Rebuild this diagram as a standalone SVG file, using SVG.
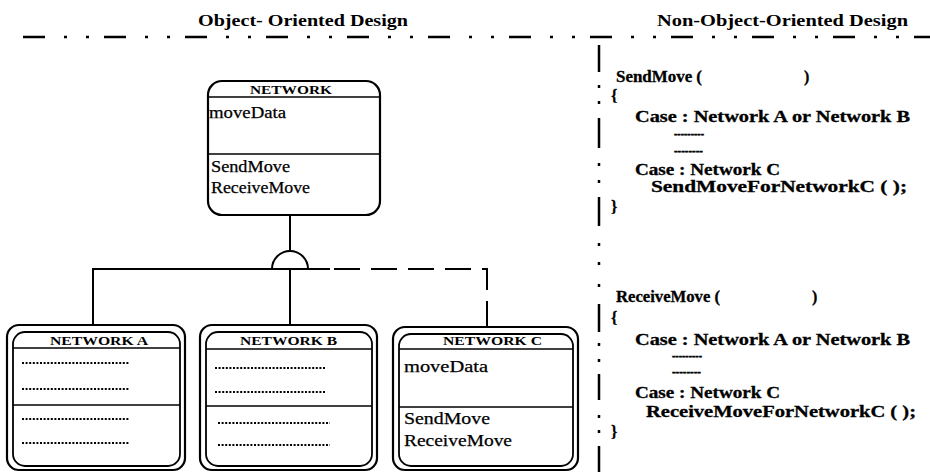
<svg xmlns="http://www.w3.org/2000/svg" width="930" height="472" viewBox="0 0 930 472">
  <style>
    .bg { fill: #ffffff; }
    .rule { fill: none; stroke: #000; stroke-width: 2.5; }
    .hrule { stroke-dasharray: 22 19 3 19 3 15; }
    .box { fill: none; stroke: #000; stroke-width: 2.2; }
    .inner { fill: none; stroke: #000; stroke-width: 1.8; }
    .sep { stroke: #000; stroke-width: 1.6; }
    .link { fill: none; stroke: #000; stroke-width: 2; }
    .dashed { stroke-dasharray: 26 11; }
    .dots { stroke: #000; stroke-width: 2; stroke-dasharray: 2 1.6; }
    .head { font-family: "Liberation Serif", "Times New Roman", serif; font-weight: bold; font-size: 16px; fill: #000; }
    .title { font-family: "Liberation Serif", "Times New Roman", serif; font-weight: bold; font-size: 12px; fill: #000; }
    .member { font-family: "Liberation Serif", "Times New Roman", serif; font-size: 16px; fill: #000; stroke: #000; stroke-width: 0.25; }
    .big { font-size: 17px; }
    .code { font-family: "Liberation Serif", "Times New Roman", serif; font-weight: bold; font-size: 16px; fill: #000; stroke: #000; stroke-width: 0.3; }
    .fill { font-family: "Liberation Serif", "Times New Roman", serif; font-weight: bold; font-size: 13px; fill: #000; stroke: #000; stroke-width: 0.5; }
  </style>

  <rect class="bg" x="0" y="0" width="930" height="472"/>

  <!-- column headings and dividing rules -->
  <g id="headings">
    <text class="head" x="198" y="26" textLength="210" lengthAdjust="spacingAndGlyphs">Object- Oriented Design</text>
    <text class="head" x="657" y="26" textLength="251" lengthAdjust="spacingAndGlyphs">Non-Object-Oriented Design</text>
    <line class="rule hrule" x1="23" y1="37" x2="930" y2="37"/>
    <!-- vertical divider: long dashes and dots placed along the listing -->
    <path class="rule" d="M599 45V72 M599 85V88 M599 101V104 M599 118V148 M599 163V166 M599 180V183 M599 197V226 M599 243V246 M599 262V265 M599 284V287 M599 304V332 M599 343V346 M599 359V362 M599 374V400 M599 415V418 M599 430V433 M599 446V472"/>
  </g>

  <!-- base class -->
  <g id="network">
    <rect class="box" x="208" y="81" width="172" height="134" rx="14"/>
    <line class="sep" x1="208" y1="97" x2="380" y2="97"/>
    <line class="sep" x1="208" y1="154" x2="380" y2="154"/>
    <text class="title" x="250" y="94" textLength="82" lengthAdjust="spacingAndGlyphs">NETWORK</text>
    <text class="member" x="209" y="118" textLength="77" lengthAdjust="spacingAndGlyphs">moveData</text>
    <text class="member" x="211" y="172" textLength="79" lengthAdjust="spacingAndGlyphs">SendMove</text>
    <text class="member" x="211" y="193" textLength="99" lengthAdjust="spacingAndGlyphs">ReceiveMove</text>
  </g>

  <!-- inheritance connectors -->
  <g id="connectors">
    <line class="link" x1="290" y1="215" x2="290" y2="252"/>
    <path class="link" d="M272 269 A18 18 0 0 1 308 269"/>
    <polyline class="link" points="93,325 93,269 330,269"/>
    <line class="link" x1="290" y1="269" x2="290" y2="325"/>
    <polyline class="link dashed" points="334,269 487,269 487,327"/>
  </g>

  <!-- subclass A -->
  <g id="network-a">
    <rect class="box" x="7" y="325" width="178" height="145" rx="12"/>
    <rect class="inner" x="13" y="332" width="167" height="134" rx="12"/>
    <line class="sep" x1="13" y1="348" x2="180" y2="348"/>
    <line class="sep" x1="13" y1="405" x2="180" y2="405"/>
    <text class="title" x="50" y="345" textLength="98" lengthAdjust="spacingAndGlyphs">NETWORK A</text>
    <line class="dots" x1="22" y1="363" x2="130" y2="363"/>
    <line class="dots" x1="22" y1="389" x2="130" y2="389"/>
    <line class="dots" x1="22" y1="419" x2="130" y2="419"/>
    <line class="dots" x1="22" y1="443" x2="130" y2="443"/>
  </g>

  <!-- subclass B -->
  <g id="network-b">
    <rect class="box" x="200" y="325" width="177" height="145" rx="12"/>
    <rect class="inner" x="206" y="332" width="166" height="134" rx="12"/>
    <line class="sep" x1="206" y1="349" x2="372" y2="349"/>
    <line class="sep" x1="206" y1="406" x2="372" y2="406"/>
    <text class="title" x="240" y="345" textLength="97" lengthAdjust="spacingAndGlyphs">NETWORK B</text>
    <line class="dots" x1="215" y1="368" x2="325" y2="368"/>
    <line class="dots" x1="215" y1="392" x2="325" y2="392"/>
    <line class="dots" x1="218" y1="423" x2="330" y2="423"/>
    <line class="dots" x1="218" y1="445" x2="330" y2="445"/>
  </g>

  <!-- subclass C -->
  <g id="network-c">
    <rect class="box" x="393" y="327" width="185" height="143" rx="12"/>
    <rect class="inner" x="399" y="334" width="174" height="132" rx="12"/>
    <line class="sep" x1="399" y1="349" x2="573" y2="349"/>
    <line class="sep" x1="399" y1="407" x2="573" y2="407"/>
    <text class="title" x="443" y="345" textLength="99" lengthAdjust="spacingAndGlyphs">NETWORK C</text>
    <text class="member big" x="404" y="372" textLength="84" lengthAdjust="spacingAndGlyphs">moveData</text>
    <text class="member big" x="404" y="424" textLength="86" lengthAdjust="spacingAndGlyphs">SendMove</text>
    <text class="member big" x="404" y="446" textLength="108" lengthAdjust="spacingAndGlyphs">ReceiveMove</text>
  </g>

  <!-- procedural listing -->
  <g id="send-move">
    <text class="code" x="616" y="82" textLength="86" lengthAdjust="spacingAndGlyphs">SendMove (</text>
    <text class="code" x="804" y="82">)</text>
    <text class="code" x="611" y="101">{</text>
    <text class="code" x="635" y="122" textLength="275" lengthAdjust="spacingAndGlyphs">Case :  Network A or Network B</text>
    <text class="fill" x="674" y="138" textLength="30" lengthAdjust="spacingAndGlyphs">---------</text>
    <text class="fill" x="674" y="155" textLength="29" lengthAdjust="spacingAndGlyphs">--------</text>
    <text class="code" x="635" y="175" textLength="145" lengthAdjust="spacingAndGlyphs">Case : Network C</text>
    <text class="code" x="651" y="192" textLength="256" lengthAdjust="spacingAndGlyphs">SendMoveForNetworkC ( );</text>
    <text class="code" x="611" y="212">}</text>
  </g>

  <g id="receive-move">
    <text class="code" x="616" y="302" textLength="104" lengthAdjust="spacingAndGlyphs">ReceiveMove (</text>
    <text class="code" x="812" y="302">)</text>
    <text class="code" x="611" y="323">{</text>
    <text class="code" x="635" y="345" textLength="275" lengthAdjust="spacingAndGlyphs">Case :  Network A or Network B</text>
    <text class="fill" x="672" y="360" textLength="30" lengthAdjust="spacingAndGlyphs">---------</text>
    <text class="fill" x="672" y="376" textLength="29" lengthAdjust="spacingAndGlyphs">--------</text>
    <text class="code" x="635" y="398" textLength="145" lengthAdjust="spacingAndGlyphs">Case : Network C</text>
    <text class="code" x="646" y="417" textLength="270" lengthAdjust="spacingAndGlyphs">ReceiveMoveForNetworkC ( );</text>
    <text class="code" x="611" y="437">}</text>
  </g>
</svg>
